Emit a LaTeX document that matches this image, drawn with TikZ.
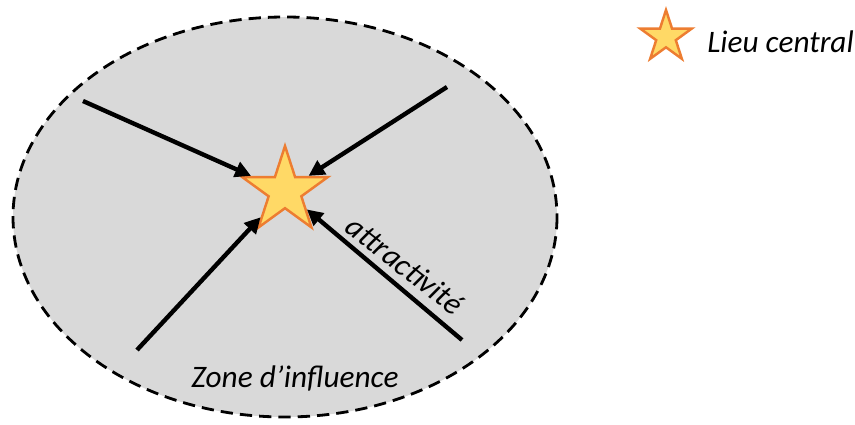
\documentclass[tikz,border=0pt]{standalone}
\usepackage{fontspec}
\setmainfont{Carlito}
\usepackage{xcolor}
\usetikzlibrary{arrows.meta,calc,positioning,shapes.geometric}
\definecolor{zonegray}{HTML}{D9D9D9}
\definecolor{stargold}{HTML}{FFD966}
\definecolor{starorange}{HTML}{ED7D31}
\tikzset{
  lieu/.style={star,star points=5,star point ratio=2.618,inner sep=0pt,draw=starorange,fill=stargold,line width=1.4pt},
  flux/.style={-{Triangle[length=9pt,width=9pt]},line width=2.5pt},
  lbl/.style={font=\fontsize{17.8}{21}\selectfont\itshape,inner sep=0pt}
}
\begin{document}
\begin{tikzpicture}[x=0.02cm,y=-0.02cm]
\useasboundingbox (0,0) rectangle (855,425);
\draw[dashed,dash pattern=on 7pt off 4pt,line width=1.6pt,fill=zonegray] (285,217) ellipse [x radius=272,y radius=200];
\node[lieu,minimum size=1.8cm] (centre) at (285,191) {};
\coordinate (nw) at (83,101);
\coordinate (ne) at (447,87);
\coordinate (sw) at (137,350);
\coordinate (se) at (462,340);
\draw[flux] (nw) -- (centre);
\draw[flux] (ne) -- (centre);
\draw[flux] (sw) -- (centre);
\draw[flux] (se) -- (centre);
\node[lbl,rotate=-38] (attr) at (405,265) {attractivité};
\node[lbl] (zone) at (295,378) {Zone d’influence};
\node[lieu,minimum size=1.08cm] (legstar) at (666,37) {};
\node[lbl,anchor=west] (legtxt) at (707,42) {Lieu central};
\end{tikzpicture}
\end{document}
